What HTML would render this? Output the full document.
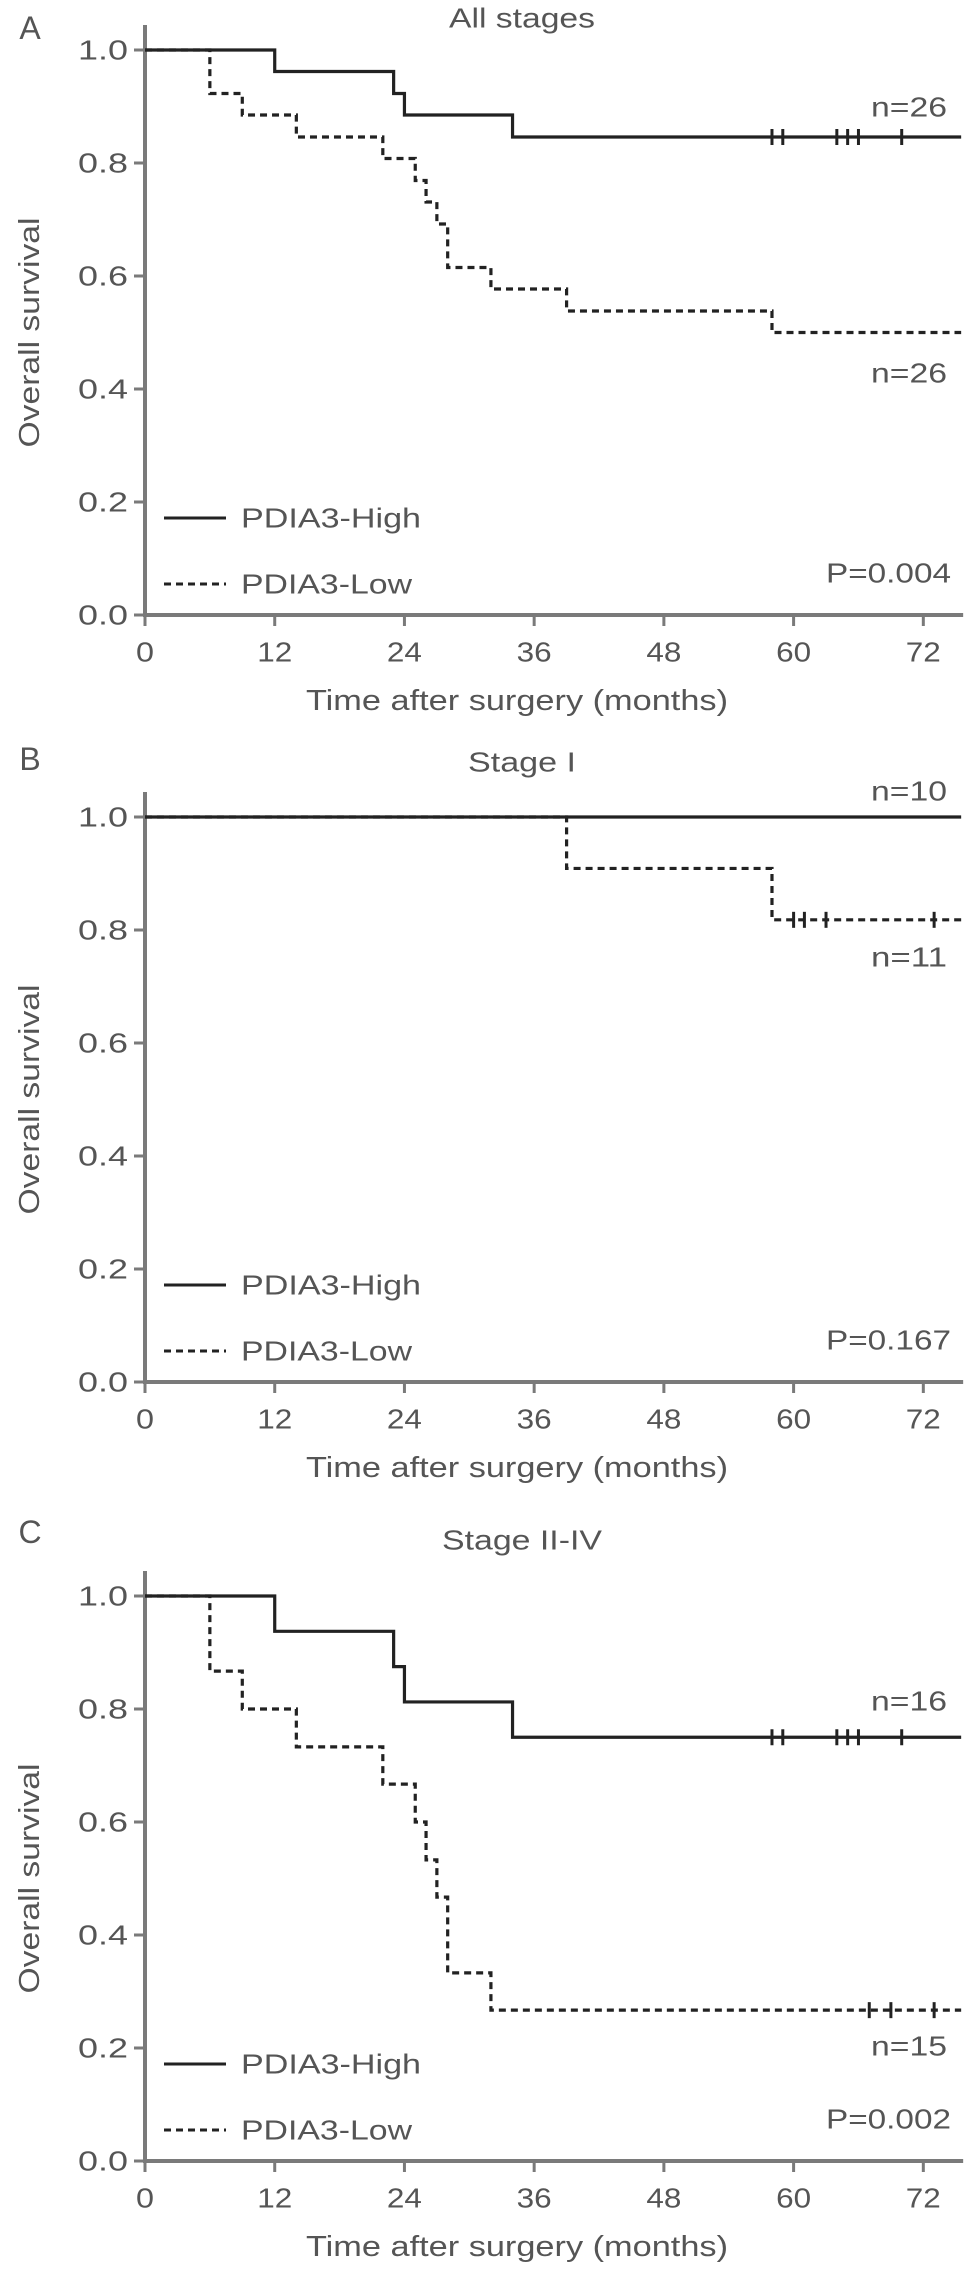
<!DOCTYPE html>
<html><head><meta charset="utf-8"><style>
html,body{margin:0;padding:0;background:#fff}
svg{display:block}
text{font-family:"Liberation Sans",Arial,sans-serif;fill:#555}
</style></head><body>
<svg id="fig" width="969" height="2272" viewBox="0 0 969 2272" xmlns="http://www.w3.org/2000/svg"></svg>
<script>
// ---- data ----
const xTicks = [0, 12, 24, 36, 48, 60, 72];
const yTicks = [0.0, 0.2, 0.4, 0.6, 0.8, 1.0];
const yTickLabels = ["0.0", "0.2", "0.4", "0.6", "0.8", "1.0"];
const panelLetters = ["A", "B", "C"];
const panelTitles = ["All stages", "Stage I", "Stage II-IV"];
const pValues = ["P=0.004", "P=0.167", "P=0.002"];
const nHigh = ["n=26", "n=10", "n=16"];
const nLow = ["n=26", "n=11", "n=15"];
// step events: times and survival after each drop
const aHighT = [12, 23, 24, 34];
const aHighS = [0.962, 0.923, 0.885, 0.846];
const aHighCens = [58, 59, 64, 65, 66, 70];
const aLowT = [6, 9, 14, 22, 25, 26, 27, 28, 32, 39, 58];
const aLowS = [0.923, 0.885, 0.846, 0.808, 0.769, 0.731, 0.692, 0.615, 0.577, 0.538, 0.5];
const aLowCens = [];
const bHighT = [];
const bHighS = [];
const bHighCens = [];
const bLowT = [39, 58];
const bLowS = [0.909, 0.818];
const bLowCens = [60, 61, 63, 73];
const cHighT = [12, 23, 24, 34];
const cHighS = [0.9375, 0.875, 0.8125, 0.75];
const cHighCens = [58, 59, 64, 65, 66, 70];
const cLowT = [6, 9, 14, 22, 25, 26, 27, 28, 32];
const cLowS = [0.867, 0.8, 0.733, 0.667, 0.6, 0.533, 0.467, 0.333, 0.267];
const cLowCens = [67, 69, 73];

const NS = "http://www.w3.org/2000/svg";
const svg = document.getElementById("fig");
const X0 = 145, PXM = 10.81, XMAX = 75.5;
const panelTop = [50, 817, 1596];   // y of 1.0
const SPAN = 565;
const nHighY = [107, 791, 1701];
const nLowY = [373, 957, 2046];
const titleY = [18, 762, 1540];
const letterY = [28, 759, 1532];

function el(tag, attrs, parent) {
  const e = document.createElementNS(NS, tag);
  for (const k in attrs) e.setAttribute(k, attrs[k]);
  (parent || svg).appendChild(e);
  return e;
}
function txt(s, x, y, size, anchor, len, parent) {
  const t = el("text", {x: x, y: y, "font-size": size, "text-anchor": anchor || "start", "dominant-baseline": "central"}, parent);
  if (len) { t.setAttribute("textLength", len); t.setAttribute("lengthAdjust", "spacingAndGlyphs"); }
  t.textContent = s;
  return t;
}

const panels = [
  {hT: aHighT, hS: aHighS, hC: aHighCens, lT: aLowT, lS: aLowS, lC: aLowCens},
  {hT: bHighT, hS: bHighS, hC: bHighCens, lT: bLowT, lS: bLowS, lC: bLowCens},
  {hT: cHighT, hS: cHighS, hC: cHighCens, lT: cLowT, lS: cLowS, lC: cLowCens}
];

panels.forEach((p, i) => {
  const top = panelTop[i];
  const g = el("g", {});
  
  
  const sx = t => X0 + t * PXM;
  const sy = v => top + (1 - v) * SPAN;
  const y0 = sy(0);

  const L = txt(panelLetters[i], 30, letterY[i], 32, "middle", null, g);
  
  
  const T = txt(panelTitles[i], 522, titleY[i], 28, "middle", [146, 108, 160][i], g);
  
  

  // axes
  const ax = el("path", {d: `M${X0} ${top - 25} V${y0} H${sx(XMAX) + 2}`, fill: "none", stroke: "#7a7a7a", "stroke-width": 4}, g);
  
  
  yTicks.forEach((v, k) => {
    el("line", {x1: X0 - 11, x2: X0, y1: sy(v), y2: sy(v), stroke: "#7a7a7a", "stroke-width": 3}, g);
    const yt = txt(yTickLabels[k], 128, sy(v), 28, "end", 50, g);
    
    
  });
  xTicks.forEach(t => {
    el("line", {x1: sx(t), x2: sx(t), y1: y0, y2: y0 + 11, stroke: "#7a7a7a", "stroke-width": 3}, g);
    const xt = txt(String(t), sx(t), y0 + 37, 28, "middle", String(t).length > 1 ? 35 : 18, g);
    
    
  });
  const xl = txt("Time after surgery (months)", 517, y0 + 86, 29, "middle", 422, g);
  
  
  const yl = txt("Overall survival", 0, 0, 29, "middle", 230, g);
  yl.setAttribute("transform", `translate(30 ${(top + y0) / 2}) rotate(-90)`);
  
  

  // curves
  function curve(T, S, C, dashed, name) {
    let d = `M${X0} ${sy(1)}`, cur = 1;
    T.forEach((t, k) => { d += ` H${sx(t)} V${sy(S[k])}`; cur = S[k]; });
    d += ` H${sx(XMAX)}`;
    const path = el("path", {d: d, fill: "none", stroke: "#222", "stroke-width": 3.2}, g);
    if (dashed) path.setAttribute("stroke-dasharray", "7 5");
    
    
    C.forEach(t => {
      let v = 1;
      T.forEach((tt, k) => { if (tt <= t) v = S[k]; });
      const m = el("line", {x1: sx(t), x2: sx(t), y1: sy(v) - 8, y2: sy(v) + 8, stroke: "#222", "stroke-width": 3}, g);
      
      
    });
  }
  curve(p.lT, p.lS, p.lC, true, 'pdia3-low-curve');
  curve(p.hT, p.hS, p.hC, false, 'pdia3-high-curve');

  // n labels
  const nh = txt(nHigh[i], 947, nHighY[i], 28, "end", 76, g);
  
  
  const nl = txt(nLow[i], 947, nLowY[i], 28, "end", 76, g);
  
  

  // legend
  el("line", {x1: 164, x2: 226, y1: y0 - 97, y2: y0 - 97, stroke: "#222", "stroke-width": 3}, g);
  const lh = txt("PDIA3-High", 241, y0 - 97, 28, "start", 180, g);
  
  
  el("line", {x1: 164, x2: 226, y1: y0 - 31, y2: y0 - 31, stroke: "#222", "stroke-width": 3, "stroke-dasharray": "7 5"}, g);
  const ll = txt("PDIA3-Low", 241, y0 - 31, 28, "start", 171, g);
  
  
  const pv = txt(pValues[i], 951, y0 - 42, 28, "end", 125, g);
  
  
});
</script>
</body></html>
